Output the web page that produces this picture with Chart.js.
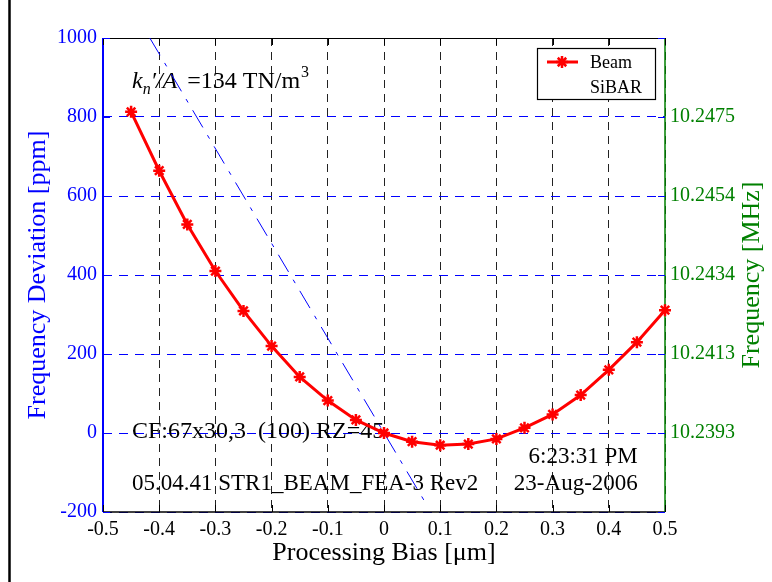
<!DOCTYPE html>
<html>
<head>
<meta charset="utf-8">
<script src="https://cdn.jsdelivr.net/npm/chart.js@4/dist/chart.umd.min.js"></script>
<style>
  html, body { margin: 0; padding: 0; background: #ffffff; }
  #wrap { width: 772px; height: 582px; position: relative; }
</style>
</head>
<body>
<div id="wrap"><canvas id="c" width="772" height="582"></canvas></div>
<script>
// Processing bias sweep [µm] and resulting frequency deviation [ppm] of the beam
const bias = [-0.45, -0.40, -0.35, -0.30, -0.25, -0.20, -0.15, -0.10, -0.05, 0.00,
              0.05, 0.10, 0.15, 0.20, 0.25, 0.30, 0.35, 0.40, 0.45, 0.50];
const deviationPpm = [813, 664, 528, 410, 309, 220, 142, 82, 33, 0,
                      -22, -31, -28, -15, 13, 47, 96, 160, 230, 311];

// SiBAR reference trend (straight line, end points)
const sibarBias = [-0.4167, 0.071];
const sibarPpm = [1000, -170];

// Axis ticks
const xTicks = [-0.5, -0.4, -0.3, -0.2, -0.1, 0, 0.1, 0.2, 0.3, 0.4, 0.5];
const xTickLabels = ['-0.5', '-0.4', '-0.3', '-0.2', '-0.1', '0', '0.1', '0.2', '0.3', '0.4', '0.5'];
const yTicks = [-200, 0, 200, 400, 600, 800, 1000];
const yTickLabels = ['-200', '0', '200', '400', '600', '800', '1000'];
const freqTickPpm = [0, 200, 400, 600, 800];
const freqTickLabels = ['10.2393', '10.2413', '10.2434', '10.2454', '10.2475'];

const SERIF = '"Liberation Serif", "Times New Roman", serif';
const BLUE = '#0000ff';
const GREEN = '#008000';
const RED = '#ff0000';

function drawStar(ctx, x, y, r, w) {
  if (Chart.helpers && Chart.helpers.drawPoint) {
    ctx.save();
    ctx.lineWidth = w;
    ctx.strokeStyle = RED;
    ctx.fillStyle = RED;
    Chart.helpers.drawPoint(ctx, { pointStyle: 'star', radius: r, borderWidth: w, rotation: 0 }, x, y);
    ctx.restore();
  }
}

const decorations = {
  id: 'decorations',
  beforeDatasetsDraw(chart) {
    const { ctx, chartArea: a, scales } = chart;
    const xs = scales.x, ys = scales.y;
    ctx.save();

    // axes frame
    ctx.lineCap = 'butt';
    ctx.strokeStyle = '#000';
    ctx.lineWidth = 1;
    ctx.beginPath(); ctx.moveTo(a.left, a.top + 0.5); ctx.lineTo(a.right, a.top + 0.5); ctx.stroke();
    ctx.lineWidth = 1.5;
    ctx.beginPath(); ctx.moveTo(a.left, a.bottom); ctx.lineTo(a.right, a.bottom); ctx.stroke();
    ctx.strokeStyle = BLUE;
    ctx.lineWidth = 2;
    ctx.beginPath(); ctx.moveTo(a.left, a.top); ctx.lineTo(a.left, a.bottom); ctx.stroke();
    ctx.strokeStyle = GREEN;
    ctx.lineWidth = 1.5;
    ctx.beginPath(); ctx.moveTo(a.right, a.top); ctx.lineTo(a.right, a.bottom); ctx.stroke();

    // inward tick marks
    ctx.lineWidth = 1;
    ctx.strokeStyle = '#000';
    xTicks.forEach(v => {
      const px = Math.round(xs.getPixelForValue(v)) + 0.5;
      ctx.beginPath(); ctx.moveTo(px, a.bottom); ctx.lineTo(px, a.bottom - 7); ctx.stroke();
      ctx.beginPath(); ctx.moveTo(px, a.top); ctx.lineTo(px, a.top + 7); ctx.stroke();
    });
    ctx.strokeStyle = BLUE;
    yTicks.forEach(v => {
      const py = Math.round(ys.getPixelForValue(v)) + 0.5;
      ctx.beginPath(); ctx.moveTo(a.left, py); ctx.lineTo(a.left + 7, py); ctx.stroke();
      ctx.beginPath(); ctx.moveTo(a.right, py); ctx.lineTo(a.right - 7, py); ctx.stroke();
    });

    // annotation texts
    ctx.fillStyle = '#000';
    ctx.textAlign = 'left';
    ctx.textBaseline = 'alphabetic';
    let x = xs.getPixelForValue(-0.4484);
    const yb = ys.getPixelForValue(873);
    const big = '24px ' + SERIF, bigI = 'italic 24px ' + SERIF;
    const small = '16px ' + SERIF, smallI = 'italic 16px ' + SERIF;
    ctx.font = bigI; ctx.fillText('k', x, yb); x += ctx.measureText('k').width;
    ctx.font = smallI; ctx.fillText('n', x, yb + 6); x += ctx.measureText('n').width;
    ctx.font = bigI; ctx.fillText('\u2032/A', x, yb); x += ctx.measureText('\u2032/A').width + 4;
    ctx.font = big; ctx.fillText(' =134 TN/m', x, yb); x += ctx.measureText(' =134 TN/m').width;
    ctx.font = small; ctx.fillText('3', x + 1, yb - 11);

    const lx = xs.getPixelForValue(-0.4484);
    ctx.font = big;
    ctx.fillText('CF:67x30,3  (100) RZ=45', lx, ys.getPixelForValue(-13));
    ctx.font = '23px ' + SERIF;
    ctx.fillText('05.04.41 STR1_BEAM_FEA-3 Rev2', lx, ys.getPixelForValue(-145));
    ctx.textAlign = 'right';
    const rx = xs.getPixelForValue(0.4516);
    ctx.fillText('6:23:31 PM', rx, ys.getPixelForValue(-76));
    ctx.fillText('23-Aug-2006', rx, ys.getPixelForValue(-145));
    ctx.restore();
  },
  afterDraw(chart) {
    const { ctx, chartArea: a } = chart;
    ctx.save();
    // outer frame edge
    ctx.strokeStyle = '#000';
    ctx.lineWidth = 2.5;
    ctx.beginPath(); ctx.moveTo(9.5, 0); ctx.lineTo(9.5, 582); ctx.stroke();

    // axis titles
    const cy = (a.top + a.bottom) / 2;
    ctx.font = '26px ' + SERIF;
    ctx.textAlign = 'center';
    ctx.textBaseline = 'middle';
    ctx.fillStyle = '#000';
    ctx.fillText('Processing Bias [\u03bcm]', (a.left + a.right) / 2, 553);
    ctx.save();
    ctx.translate(38, cy); ctx.rotate(-Math.PI / 2);
    ctx.fillStyle = BLUE; ctx.fillText('Frequency Deviation [ppm]', 0, 0);
    ctx.restore();
    ctx.save();
    ctx.translate(752, cy); ctx.rotate(-Math.PI / 2);
    ctx.fillStyle = GREEN; ctx.fillText('Frequency [MHz]', 0, 0);
    ctx.restore();

    // legend
    const bx = 537, by = 48, bw = 118, bh = 51;
    ctx.fillStyle = '#fff';
    ctx.fillRect(bx, by, bw, bh);
    ctx.strokeStyle = '#000';
    ctx.lineWidth = 1.2;
    ctx.strokeRect(bx + 0.5, by + 0.5, bw, bh);
    ctx.strokeStyle = RED;
    ctx.lineWidth = 3;
    ctx.beginPath(); ctx.moveTo(547, 62); ctx.lineTo(578, 62); ctx.stroke();
    drawStar(ctx, 562, 62, 6, 2.5);
    ctx.fillStyle = '#000';
    ctx.font = '18px ' + SERIF;
    ctx.textAlign = 'left';
    ctx.textBaseline = 'middle';
    ctx.fillText(chart.data.datasets[0].label, 590, 63);
    ctx.fillText(chart.data.datasets[1].label, 590, 88);
    ctx.restore();
  }
};

new Chart(document.getElementById('c').getContext('2d'), {
  type: 'line',
  data: {
    datasets: [
      {
        label: 'Beam',
        data: bias.map((x, i) => ({ x, y: deviationPpm[i] })),
        borderColor: RED,
        backgroundColor: RED,
        borderWidth: 3,
        pointStyle: 'star',
        pointRadius: 6,
        pointBorderWidth: 2.5,
        pointBorderColor: RED,
        tension: 0,
        clip: false,
        order: 1
      },
      {
        label: 'SiBAR',
        data: sibarBias.map((x, i) => ({ x, y: sibarPpm[i] })),
        borderColor: BLUE,
        borderWidth: 1,
        borderDash: [20, 9, 4, 9],
        pointRadius: 0,
        tension: 0,
        order: 2
      }
    ]
  },
  options: {
    responsive: false,
    animation: false,
    devicePixelRatio: 1,
    layout: { padding: { top: 38, left: 0, right: 0, bottom: 0 } },
    plugins: { legend: { display: false }, tooltip: { enabled: false } },
    scales: {
      x: {
        type: 'linear', min: -0.5, max: 0.5,
        afterBuildTicks: s => { s.ticks = xTicks.map(v => ({ value: v })); },
        afterFit: s => { s.height = 70; },
        ticks: { callback: (v, i) => xTickLabels[i], color: '#000', font: { family: SERIF, size: 20 }, padding: 6, maxRotation: 0, autoSkip: false },
        grid: { color: '#222', lineWidth: 1, drawTicks: false },
        border: { display: false, dash: [8, 6] }
      },
      y: {
        position: 'left', min: -200, max: 1000,
        afterBuildTicks: s => { s.ticks = yTicks.map(v => ({ value: v })); },
        afterFit: s => { s.width = 103; },
        ticks: { callback: (v, i) => yTickLabels[i], color: BLUE, font: { family: SERIF, size: 20 }, padding: 6 },
        grid: { color: BLUE, lineWidth: 1, drawTicks: false },
        border: { display: false, dash: [9, 7] }
      },
      y2: {
        position: 'right', min: -200, max: 1000,
        afterBuildTicks: s => { s.ticks = freqTickPpm.map(v => ({ value: v })); },
        afterFit: s => { s.width = 107; },
        ticks: { callback: (v, i) => freqTickLabels[i], color: GREEN, font: { family: SERIF, size: 20 }, padding: 5 },
        grid: { display: false, drawTicks: false },
        border: { display: false }
      }
    }
  },
  plugins: [decorations]
});
</script>
</body>
</html>
